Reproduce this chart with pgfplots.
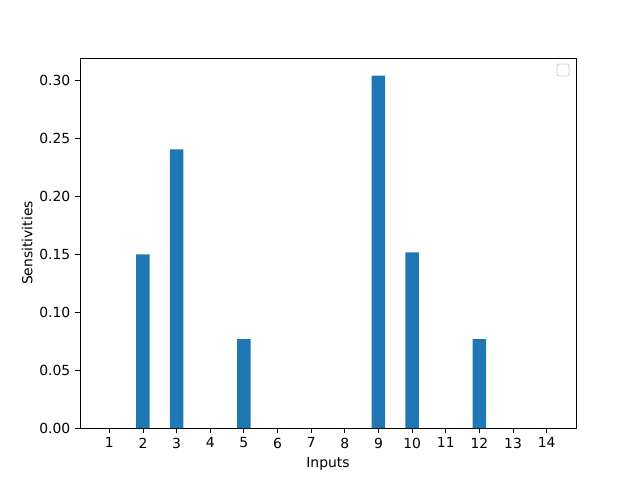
\documentclass[border=0pt]{standalone}
\usepackage{pgfplots}
\pgfplotsset{compat=1.18}
\usepackage{fontspec}
\setmainfont{DejaVu Sans}
\definecolor{mplblue}{HTML}{1F77B4}
\begin{document}
\begin{tikzpicture}
\begin{axis}[
  name=ax,
  scale only axis,
  width=357.12pt, height=266.4pt,
  xmin=0.13, xmax=14.87,
  ymin=0, ymax=0.3195,
  xtick={1,...,14},
  ytick={0,0.05,0.10,0.15,0.20,0.25,0.30},
  yticklabel style={/pgf/number format/.cd,fixed,fixed zerofill,precision=2},
  /pgf/number format/assume math mode=true,
  tick align=outside,
  tick style={black, line width=0.6pt},
  major tick length=3.5pt,
  xtick pos=bottom, ytick pos=left,
  axis line style={line width=0.6pt},
  tick label style={font=\fontsize{10}{12}\selectfont},
  label style={font=\fontsize{10}{12}\selectfont},
  xlabel={Inputs}, ylabel={Sensitivities},
  ylabel style={yshift=-2pt},
  ybar, bar width=0.4, bar shift=0pt,
]
\addplot[fill=mplblue, draw=none] coordinates {
(1,0) (2,0.150) (3,0.2405) (4,0) (5,0.0767) (6,0) (7,0) (8,0)
(9,0.3043) (10,0.1517) (11,0) (12,0.0767) (13,0) (14,0)};
\end{axis}
\draw[rounded corners=1.5pt, black!20, line width=0.6pt]
  ([xshift=-13.68pt, yshift=-4.32pt]ax.north east) rectangle ++(8.64pt,-8.64pt);
\path ([xshift=-57.6pt, yshift=-37.44pt]ax.south west) rectangle ([xshift=46.08pt, yshift=41.76pt]ax.north east);
\end{tikzpicture}
\end{document}
